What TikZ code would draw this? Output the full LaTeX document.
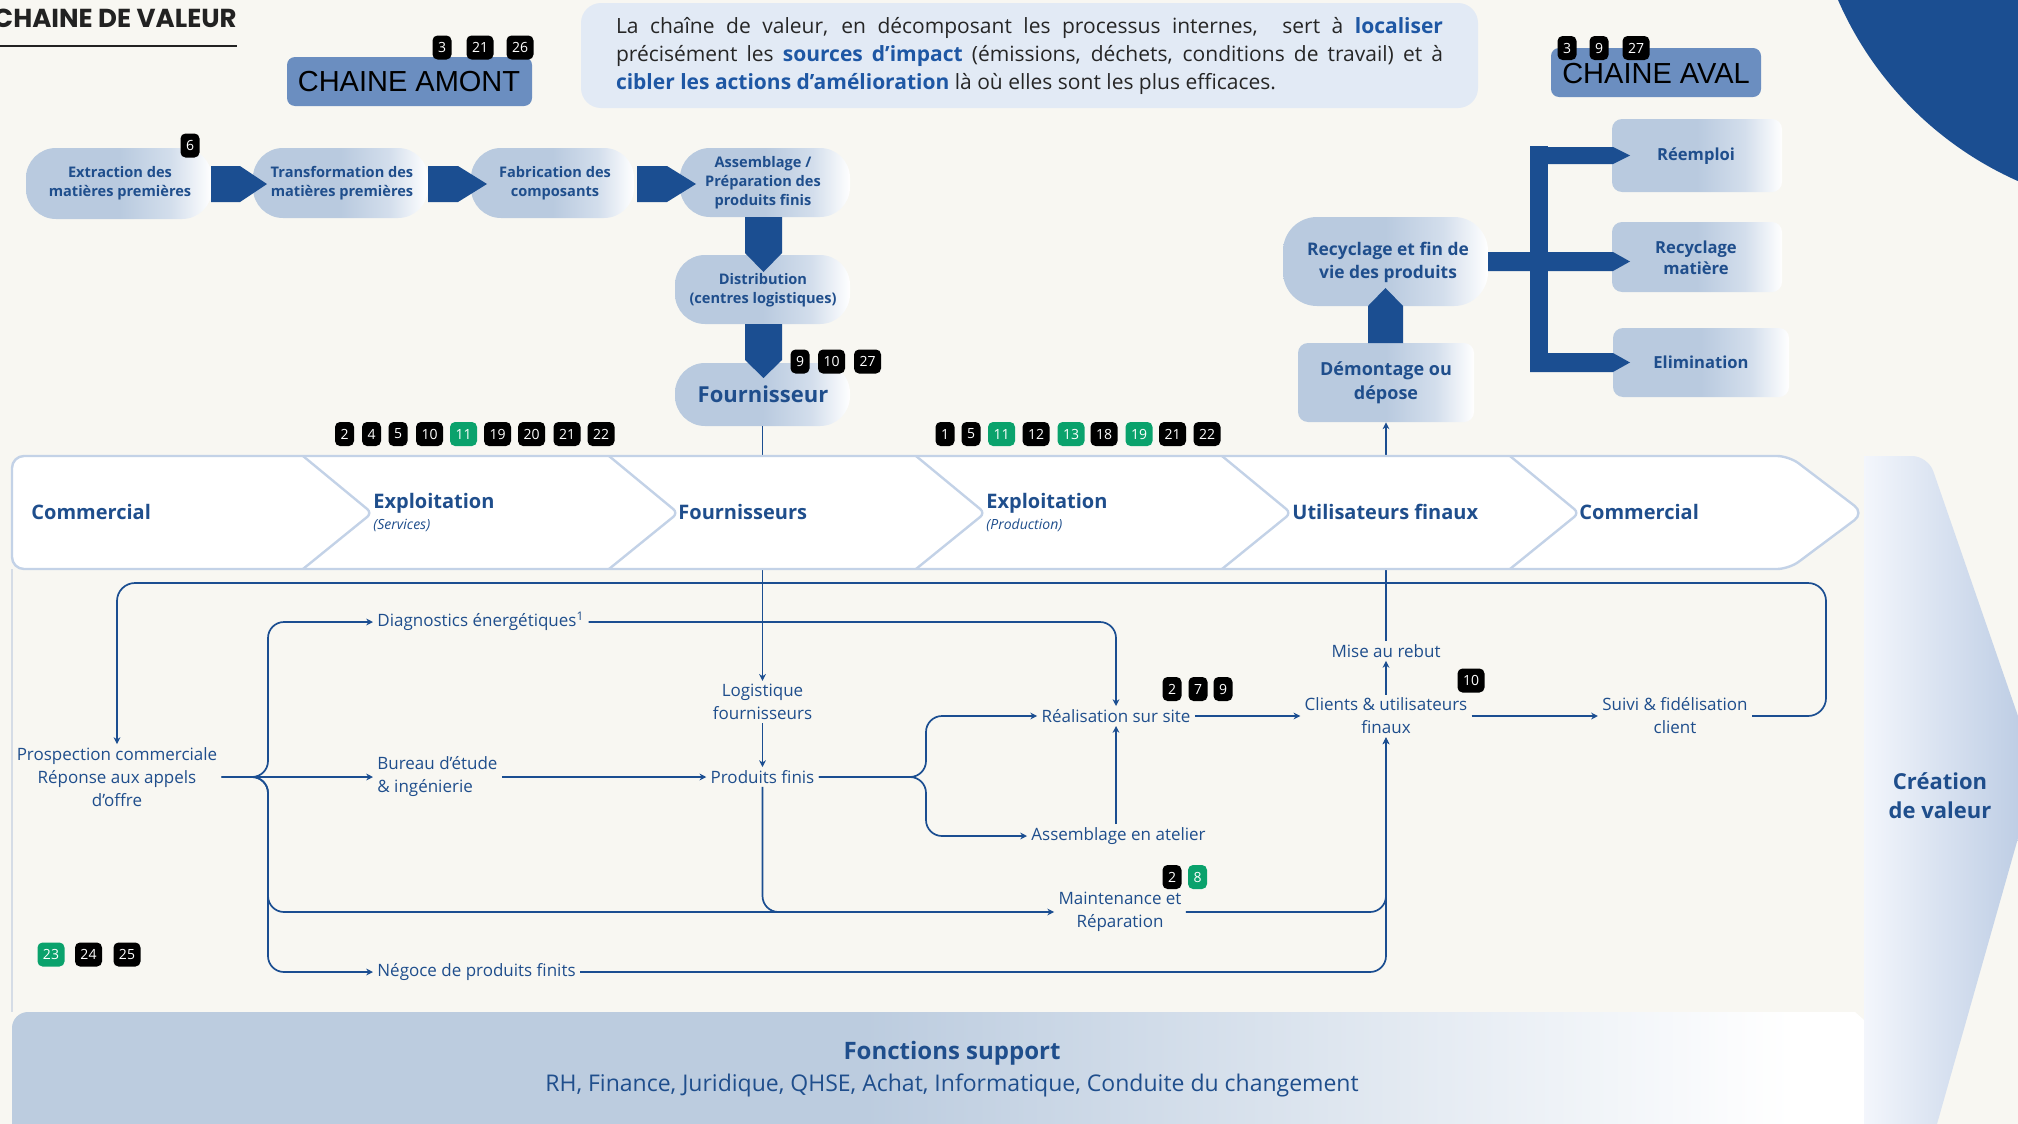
\documentclass[tikz,border=0pt]{standalone}
\usepackage{fontspec}
\setmainfont{Open Sans}
\newfontfamily\titlefont{Poppins}
\newfontfamily\arialfont{Liberation Sans}
\usetikzlibrary{arrows.meta,fit,calc}
\definecolor{bgc}{HTML}{F8F7F2}
\definecolor{navy}{HTML}{1B4E91}
\definecolor{txtblue}{HTML}{1F4E8C}
\definecolor{infoblue}{HTML}{1E57A4}
\definecolor{pillblue}{HTML}{B9CADF}
\definecolor{pillmid}{HTML}{D3DEEC}
\definecolor{amont}{HTML}{6B8EC0}
\definecolor{infobg}{HTML}{E2EAF5}
\definecolor{bgreen}{HTML}{0AA26C}
\definecolor{bandline}{HTML}{C3D2E7}
\definecolor{supblue}{HTML}{BCCCDF}
\definecolor{crlight}{HTML}{F3F6FC}
\definecolor{crblue}{HTML}{B8C9E2}
\definecolor{titlec}{HTML}{222222}
\definecolor{thinline}{HTML}{D5DCE6}
\pgfdeclarehorizontalshading{pillshade}{100bp}{color(0bp)=(pillblue); color(25bp)=(pillblue); color(50bp)=(pillblue); color(64bp)=(pillmid); color(75bp)=(white); color(100bp)=(white)}
\pgfdeclarehorizontalshading{supshade}{100bp}{color(0bp)=(supblue); color(25bp)=(supblue); color(48bp)=(supblue); color(73bp)=(white); color(100bp)=(white)}
\newcommand\hlb[1]{{\bfseries\color{infoblue}#1}}
\tikzset{
  flow/.style={draw=navy, line width=0.85pt},
  arr/.style={-{Stealth[length=3.4pt,width=3.4pt]}},
  ftxt/.style={text=txtblue, font=\fontsize{8.5}{11.5}\selectfont, align=center, inner xsep=2pt, inner ysep=1.5pt},
  pill/.style={shading=pillshade, rounded corners=15pt, inner sep=0pt},
  boxr/.style={shading=pillshade, rounded corners=5pt, inner sep=0pt},
  ptxt/.style={inner sep=0pt, text=txtblue, font=\bfseries\fontsize{7.3}{9.6}\selectfont, align=center},
  btxt/.style={inner sep=0pt, text=txtblue, font=\bfseries\fontsize{8.3}{10.5}\selectfont, align=center},
  ttl/.style={inner sep=0pt, text=black, font=\arialfont\fontsize{14.5}{15}\selectfont},
  badge/.style={fill=black, text=white, rounded corners=2.5pt, inner sep=0pt, minimum height=12pt, minimum width=9.5pt, font=\fontsize{7}{7}\selectfont},
  badge2/.style={badge, minimum width=13.5pt},
  gbadge/.style={badge, fill=bgreen},
  gbadge2/.style={badge2, fill=bgreen},
  bandt/.style={text=txtblue, font=\bfseries\fontsize{10}{12}\selectfont, anchor=west, inner sep=0pt},
  bsub/.style={text=txtblue, font=\itshape\fontsize{7}{8}\selectfont, anchor=west, inner sep=0pt},
  fat/.style={fill=navy},
}
\begin{document}
\begin{tikzpicture}[x=0.5pt,y=-0.5pt]
\clip (0,0) rectangle (2018,1124);
\fill[bgc] (0,0) rectangle (2018,1124);
% top-right disc
\fill[navy] (2160,-140) circle (351);
% title
\node[anchor=east, inner sep=0pt, text=titlec, font=\titlefont\bfseries\fontsize{13}{14}\selectfont] (title) at (237,18) {CHAINE DE VALEUR};
\draw[titlec, line width=1pt] (0,46) -- (237,46);
% CHAINE AMONT / AVAL
\node[fill=amont, rounded corners=4pt, inner sep=0pt, fit={(287,57)(532,106)}] (amontbox) {};
\node[ttl] (amontt) at (409,82) {CHAINE AMONT};
\node[fill=amont, rounded corners=4pt, inner sep=0pt, fit={(1551,48)(1761,97)}] (avalbox) {};
\node[ttl] (avalt) at (1656,74) {CHAINE AVAL};
\node[badge] (a3) at (442,47.5) {3};
\node[badge2] (a21) at (480,47.5) {21};
\node[badge2] (a26) at (520,47.5) {26};
\node[badge] (v3) at (1567,48) {3};
\node[badge] (v9) at (1599,48) {9};
\node[badge2] (v27) at (1636,48) {27};
% info box
\node[fill=infobg, rounded corners=10pt, inner sep=0pt, fit={(581,3)(1478,108)}] (info) {};
\node[text width=413.5pt, align=justify, inner sep=0pt, text=black!85, font=\fontsize{10.5}{14}\selectfont] (infotxt) at (1029.5,56) {La chaîne de valeur, en décomposant les processus internes, \ sert à \hlb{localiser}\linebreak précisément les \hlb{sources d’impact} (émissions, déchets, conditions de travail) et à\linebreak \hlb{cibler les actions d’amélioration} là où elles sont les plus efficaces.};
% upstream chain pills
\node[pill, fit={(26,148)(212,219)}] (ext) {};
\node[pill, fit={(253,148)(428,218)}] (trans) {};
\node[pill, fit={(471,148)(634,218)}] (fab) {};
\node[pill, fit={(680,148)(850,217)}] (ass) {};
\node[pill, fit={(675,255)(850,324)}] (dist) {};
\node[pill, fit={(675,363)(850,426)}] (four) {};
\node[ptxt] (extt) at (120,183.5) {Extraction des\\matières premières};
\node[ptxt] (transt) at (342,183.5) {Transformation des\\matières premières};
\node[ptxt] (fabt) at (555,183.5) {Fabrication des\\composants};
\node[ptxt] (asst) at (763,183) {Assemblage /\\Préparation des\\produits finis};
\node[ptxt] (distt) at (763,290) {Distribution\\(centres logistiques)};
\node[ptxt, font=\bfseries\fontsize{11}{12}\selectfont] (fourt) at (763,394) {Fournisseur};
\node[badge] (b6) at (190,145.5) {6};
% fat arrows
\fill[fat] (211,166) -- (240,166) -- (267,184) -- (240,202) -- (211,202) -- cycle;
\fill[fat] (428,166) -- (458,166) -- (487,184) -- (458,202) -- (428,202) -- cycle;
\fill[fat] (637,166) -- (667,166) -- (696,184) -- (667,202) -- (637,202) -- cycle;
\fill[fat] (745,217) -- (782,217) -- (782,253) -- (763.5,272) -- (745,253) -- cycle;
\fill[fat] (745,324) -- (782,324) -- (782,360) -- (763.5,378) -- (745,360) -- cycle;
\node[badge] (f9) at (800,361.5) {9};
\node[badge2] (f10) at (831.5,361.5) {10};
\node[badge2] (f27) at (867.5,361.5) {27};
% downstream
\node[boxr, fit={(1298,343)(1474,422)}] (demo) {};
\node[pill, rounded corners=17pt, fit={(1283,217)(1488,306)}] (recy) {};
\node[boxr, fit={(1612,119)(1782,192)}] (reem) {};
\node[boxr, fit={(1612,222)(1782,292)}] (rmat) {};
\node[boxr, fit={(1613,328)(1789,397)}] (elim) {};
\node[btxt, font=\bfseries\fontsize{9}{12}\selectfont] (demot) at (1386,383) {Démontage ou\\dépose};
\node[btxt, font=\bfseries\fontsize{8.7}{11.5}\selectfont] (recyt) at (1388,262) {Recyclage et fin de\\vie des produits};
\node[btxt] (reemt) at (1696,156) {Réemploi};
\node[btxt] (rmatt) at (1696,257.5) {Recyclage\\matière};
\node[btxt] (elimt) at (1701,362) {Elimination};
\fill[fat] (1368,343) -- (1368,306) -- (1385.5,288) -- (1403,306) -- (1403,343) -- cycle;
\fill[fat] (1488,252) -- (1613,252) -- (1630,261.5) -- (1613,271) -- (1488,271) -- cycle;
\fill[fat] (1530,146) rectangle (1548,372);
\fill[fat] (1530,147) -- (1613,147) -- (1630,155.5) -- (1613,164) -- (1530,164) -- cycle;
\fill[fat] (1530,353) -- (1613,353) -- (1630,362.5) -- (1613,372) -- (1530,372) -- cycle;
% badges rows
\foreach \x/\t/\s [count=\i] in {344.5/2/badge, 371.5/4/badge, 398/5/badge, 429.5/10/badge2, 463.5/11/gbadge2, 497.5/19/badge2, 531.5/20/badge2, 567/21/badge2, 601/22/badge2}
  \node[\s] (bc\i) at (\x,434) {\t};
\foreach \x/\t/\s [count=\i] in {945/1/badge, 971/5/badge, 1001.5/11/gbadge2, 1036/12/badge2, 1071/13/gbadge2, 1104/18/badge2, 1139/19/gbadge2, 1172.5/21/badge2, 1207/22/badge2}
  \node[\s] (bd\i) at (\x,434) {\t};
% side and support panels
\shade[left color=crlight, right color=crblue] (1864,1124) -- (1864,456) [rounded corners=8pt] -- (1928,456) -- (2037,771) [sharp corners] -- (1937,1124) -- cycle;
\shade[shading=supshade] (12,1124) [rounded corners=8pt] -- (12,1012) [sharp corners] -- (1855,1012) -- (1864,1020) -- (1864,1124) -- cycle;
\draw[thinline, line width=0.6pt] (12,569) -- (12,1012);
\node[text=txtblue, font=\bfseries\fontsize{11}{14.5}\selectfont, align=center, inner sep=0pt] (crea) at (1940,796) {Création\\de valeur};
\node[text=txtblue, font=\bfseries\fontsize{12}{14}\selectfont, inner sep=0pt] (fsup) at (952,1053) {Fonctions support};
\node[text=txtblue, font=\fontsize{11.5}{14}\selectfont, inner sep=0pt] (fsupl) at (952,1085) {RH, Finance, Juridique, QHSE, Achat, Informatique, Conduite du changement};
% flow text nodes
\node[ftxt] (pros) at (117,777) {Prospection commerciale\\Réponse aux appels\\d’offre};
\node[ftxt, anchor=west] (diag) at (373,622) {Diagnostics énergétiques\smash{\textsuperscript{1}}};
\node[ftxt, anchor=west, align=left] (bur) at (373,777) {Bureau d’étude\\\& ingénierie};
\node[ftxt, anchor=west] (neg) at (373,972) {Négoce de produits finits};
\node[ftxt] (logi) at (762.5,702) {Logistique\\fournisseurs};
\node[ftxt] (prod) at (762.5,777) {Produits finis};
\node[ftxt] (real) at (1116,716) {Réalisation sur site};
\node[ftxt, anchor=west] (atel) at (1027,836) {Assemblage en atelier};
\node[ftxt] (maint) at (1120,912) {Maintenance et\\Réparation};
\node[ftxt] (cli) at (1386,716) {Clients \& utilisateurs\\finaux};
\node[ftxt] (rebut) at (1386,651) {Mise au rebut};
\node[ftxt] (suivi) at (1675,716) {Suivi \& fidélisation\\client};
% connectors passing behind the band
\draw[flow,arr] (four.south) -- (logi.north);
\draw[flow,arr] (rebut.north) -- (demo.south);
% value chain band
\path[fill=white, draw=bandline, line width=1.2pt, rounded corners=6pt] (12,456) -- (1789,456) -- (1864,513) -- (1789,569) -- (12,569) -- cycle;
\foreach \x in {303,609,916,1222,1510}
  \draw[bandline, line width=1.2pt, rounded corners=3pt] (\x,456) -- (\x+69,513) -- (\x,569);
\node[bandt] (c1) at (31,512) {Commercial};
\node[bandt] (c2) at (373,503) {Exploitation};
\node[bsub] (c2s) at (373,525) {(Services)};
\node[bandt] (c3) at (678,512) {Fournisseurs};
\node[bandt] (c4) at (986,503) {Exploitation};
\node[bsub] (c4s) at (986,525) {(Production)};
\node[bandt] (c5) at (1292,512) {Utilisateurs finaux};
\node[bandt] (c6) at (1579,512) {Commercial};
% flow connectors
\draw[flow,arr,rounded corners=9pt] (suivi.east) -- (1826,716) -- (1826,583) -- (117,583) -- (pros.north);
\draw[flow,arr,rounded corners=8pt] (pros.east) -| (268,622) -- (diag.west);
\draw[flow,arr] (pros.east) -- (bur.west);
\draw[flow,arr,rounded corners=8pt] (pros.east) -| (268,912) -- (maint.west);
\draw[flow,arr,rounded corners=8pt] (pros.east) -| (268,972) -- (neg.west);
\draw[flow,arr,rounded corners=8pt] (diag.east) -| (real.north);
\draw[flow,arr] (logi.south) -- (prod.north);
\draw[flow,arr] (bur.east) -- (prod.west);
\draw[flow,rounded corners=8pt] (prod.south) |- (840,912);
\draw[flow,arr,rounded corners=8pt] (prod.east) -| (926,716) -- (real.west);
\draw[flow,arr,rounded corners=8pt] (prod.east) -| (926,836) -- (atel.west);
\draw[flow,arr] (real.south |- atel.north) -- (real.south);
\draw[flow,arr] (real.east) -- (cli.west);
\draw[flow,arr] (cli.north) -- (rebut.south);
\draw[flow,arr] (cli.east) -- (suivi.west);
\draw[flow,arr,rounded corners=8pt] (maint.east) -| (cli.south);
\draw[flow,arr,rounded corners=8pt] (neg.east) -| (cli.south);
% flow badges
\node[badge] (r2) at (1172,689) {2};
\node[badge] (r7) at (1198,689) {7};
\node[badge] (r9) at (1223,689) {9};
\node[badge2] (k10) at (1471,680.5) {10};
\node[badge] (m2) at (1172,877) {2};
\node[gbadge] (m8) at (1197.5,877) {8};
\node[gbadge2] (p23) at (51,954.5) {23};
\node[badge2] (p24) at (88.5,954.5) {24};
\node[badge2] (p25) at (127,954.5) {25};
\end{tikzpicture}
\end{document}
